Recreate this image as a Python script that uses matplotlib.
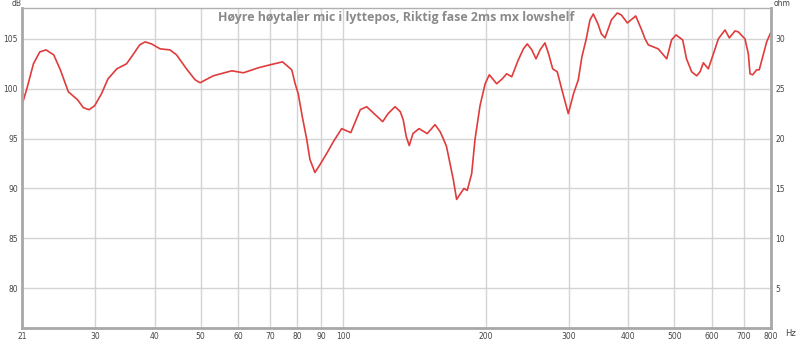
import numpy as np
import matplotlib
matplotlib.use('Agg')
from matplotlib import pyplot as plt

# values (Hz, dB)
freq = [21.1, 21.5, 22.2, 22.9, 23.6, 24.5, 25.3, 26.3, 27.5, 28.3,
        29.1, 29.9, 30.9, 31.9, 33.3, 34.9, 36.0, 37.2, 38.2, 39.4,
        41.1, 43.1, 44.5, 46.7, 48.7, 49.9, 53.2, 58.2, 61.6, 66.2,
        70.1, 74.5, 77.9, 79.2, 80.4, 82.0, 83.8, 85.1, 87.2, 89.4,
        92.3, 95.4, 99.3, 103.8, 108.7, 112.1, 116.9, 121.2, 124.4, 128.7,
        132.0, 133.9, 135.9, 137.9, 140.4, 144.6, 150.5, 156.3, 160.2, 162.7,
        165.3, 168.1, 170.8, 173.6, 179.9, 182.8, 186.8, 189.8, 192.0, 194.5,
        199.4, 203.5, 210.9, 216.8, 221.4, 226.9, 234.3, 240.2, 244.7, 250.2,
        255.3, 260.5, 266.7, 271.4, 276.9, 283.1, 289.6, 298.7, 306.4, 313.6,
        319.1, 325.6, 331.9, 337.3, 345.0, 350.8, 357.1, 368.3, 379.0, 386.6,
        398.0, 414.5, 426.7, 433.8, 440.7, 451.5, 462.6, 474.0, 481.9, 493.5,
        504.2, 520.8, 530.6, 544.1, 557.5, 566.6, 575.8, 589.9, 609.6, 619.3,
        639.7, 653.3, 671.8, 682.6, 705.0, 716.6, 722.4, 731.9, 746.3, 755.6,
        768.4, 783.3, 800.0]
spl = [98.7, 100.0, 102.5, 103.7, 103.9, 103.4, 101.9, 99.7, 98.9, 98.1,
       97.9, 98.3, 99.5, 101.0, 102.0, 102.5, 103.4, 104.4, 104.7, 104.5,
       104.0, 103.9, 103.4, 102.0, 100.9, 100.6, 101.3, 101.8, 101.6, 102.1,
       102.4, 102.7, 101.9, 100.5, 99.5, 97.2, 94.9, 92.9, 91.6, 92.4,
       93.5, 94.7, 96.0, 95.6, 97.9, 98.2, 97.4, 96.7, 97.5, 98.2,
       97.7, 96.9, 95.2, 94.3, 95.5, 96.0, 95.5, 96.4, 95.7, 95.0,
       94.2, 92.5, 90.9, 88.9, 90.0, 89.8, 91.5, 94.9, 96.5, 98.3,
       100.5, 101.4, 100.5, 101.0, 101.5, 101.2, 102.9, 104.0, 104.5, 103.9,
       103.0, 103.9, 104.6, 103.5, 102.0, 101.7, 99.9, 97.5, 99.5, 100.9,
       103.2, 104.9, 106.9, 107.5, 106.5, 105.5, 105.1, 106.9, 107.6, 107.4,
       106.6, 107.3, 105.9, 105.0, 104.4, 104.2, 104.0, 103.4, 103.0, 104.9,
       105.4, 104.9, 103.0, 101.7, 101.3, 101.7, 102.6, 102.0, 104.0, 105.0,
       105.9, 105.1, 105.8, 105.7, 105.0, 103.5, 101.5, 101.4, 101.9, 101.9,
       103.2, 104.7, 105.7]

xticks = [21, 30, 40, 50, 60, 70, 80, 90, 100, 200, 300, 400, 500, 600, 700, 800]
db_ticks = [80, 85, 90, 95, 100, 105]
ohm_ticks = [5, 10, 15, 20, 25, 30]

title = 'Høyre høytaler mic i lyttepos, Riktig fase 2ms mx lowshelf'

fig = plt.figure(figsize=(8, 3.4), dpi=100)
ax = fig.add_axes([22/800, 12/340, 749/800, 320/340])

ax.plot(freq, spl, color='#e03c3c', lw=1.2, solid_joinstyle='round')

ax.set_xscale('log')
ax.set_xlim(21, 800)
ax.set_ylim(76, 108.1)
ax.set_xticks(xticks)
ax.set_xticklabels([str(t) for t in xticks])
ax.xaxis.set_minor_locator(matplotlib.ticker.NullLocator())
ax.set_yticks(db_ticks)
ax.grid(True, color='#d4d4d4', lw=1)
ax.tick_params(length=0, labelsize=5.5, labelcolor='#444444', pad=3)

for s in ['left', 'bottom', 'right']:
    ax.spines[s].set_color('#a8a8a8')
    ax.spines[s].set_linewidth(2)
ax.spines['top'].set_color('#b0b0b0')
ax.spines['top'].set_linewidth(1)

ax2 = ax.twinx()
ax2.set_ylim(1, 33.1)
ax2.set_yticks(ohm_ticks)
ax2.tick_params(length=0, labelsize=5.5, labelcolor='#444444', pad=3)
for s in ax2.spines.values():
    s.set_visible(False)

fig.text(12/800, 1 - 4/340, 'dB', fontsize=5.5, color='#444444', ha='left', va='center')
fig.text(774/800, 1 - 4/340, 'ohm', fontsize=5.5, color='#444444', ha='left', va='center')
fig.text(785/800, 1 - 334/340, 'Hz', fontsize=6, color='#444444', ha='left', va='center')

ax.text(0.5, 0.992, title, transform=ax.transAxes, ha='center', va='top',
        fontsize=8.9, fontweight='bold', color='#8a8a8a', family=['Open Sans', 'DejaVu Sans'])

fig.savefig('out.png', dpi=100)
